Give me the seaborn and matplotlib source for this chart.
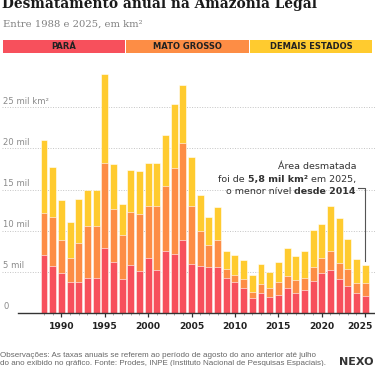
import matplotlib
matplotlib.use("Agg")
import matplotlib.pyplot as plt
from matplotlib.patches import Rectangle
from matplotlib.transforms import ScaledTranslation
import numpy as np
import pandas as pd
import seaborn as sns

# Desmatamento anual (mil km2), PRODES
years = list(range(1988, 2026))
para = [6.99, 5.75, 4.89, 3.78, 3.79, 4.28, 4.28, 7.85, 6.14, 4.14, 5.83, 5.11, 6.67, 5.24, 7.51, 7.15, 8.87, 5.90, 5.66,
        5.53, 5.61, 4.28, 3.77, 3.01, 1.74, 2.35, 1.89, 2.15, 2.99, 2.43, 2.74, 3.86, 4.90, 5.24, 4.14, 3.27, 2.36, 2.09]
mato_grosso = [5.14, 5.96, 4.02, 2.84, 4.67, 6.22, 6.22, 10.39, 6.54, 5.27, 6.47, 6.96, 6.37, 7.70, 7.89, 10.41, 11.81,
               7.15, 4.33, 2.68, 3.26, 1.05, 0.87, 1.12, 0.76, 1.14, 1.08, 1.60, 1.49, 1.56, 1.49, 1.70, 1.78, 2.26,
               1.93, 2.09, 1.30, 1.58]
demais = [8.92, 6.06, 4.82, 4.41, 5.33, 4.40, 4.40, 10.82, 5.48, 3.82, 5.08, 5.19, 5.19, 5.23, 6.25, 7.84, 7.09, 5.96,
          4.30, 3.44, 4.04, 2.13, 2.36, 2.29, 2.07, 2.40, 2.04, 2.46, 3.41, 2.96, 3.31, 4.57, 4.17, 5.54, 5.52, 3.64,
          2.86, 2.13]

series_names = ["PARÁ", "MATO GROSSO", "DEMAIS ESTADOS"]
colors = ["#F7505C", "#FD8D45", "#FFCB2F"]
y_ticks = [0, 5, 10, 15, 20, 25]
y_labels = ["0", "5 mil", "10 mil", "15 mil", "20 mil", "25 mil km²"]
x_ticks = [1990, 1995, 2000, 2005, 2010, 2015, 2020, 2025]

df = pd.DataFrame({"ano": years, "para": para, "mt": mato_grosso, "demais": demais})
df["c1"] = df["para"]
df["c2"] = df["para"] + df["mt"]
df["c3"] = df["c2"] + df["demais"]

W, H = 375, 366
fig = plt.figure(figsize=(W / 100, H / 100), dpi=100)
ax = fig.add_axes([0, 1 - 312.8 / H, 1, (312.8 - 60) / H])

# stacked bars drawn as overlapping cumulative totals
for col, c in zip(["c3", "c2", "c1"], colors[::-1]):
    sns.barplot(data=df, x="ano", y=col, native_scale=True, color=c, saturation=1,
                width=0.8, edgecolor="white", linewidth=0.4, ax=ax, zorder=2)

ax.set_xlim(1988 - 44 / 8.68, 1988 + (W - 44) / 8.68)
ax.set_ylim(0, (312.8 - 60) / 8.22)
for s in ax.spines.values():
    s.set_visible(False)
ax.set_xlabel("")
ax.set_ylabel("")
ax.set_yticks([])

# grid + y labels
ytr = ax.get_yaxis_transform()
for v, lab in zip(y_ticks, y_labels):
    if v > 0:
        ax.axhline(v, xmin=2 / W, color="#c4c4c4", lw=0.7, ls=(0, (1, 1.6)), zorder=0)
    ax.text(3 / W, v + 0.45, lab, transform=ytr, ha="left", va="baseline",
            fontsize=6.1, color="#8a8a8a")
ax.axhline(0, xmin=18 / W, color="#333333", lw=1.0, zorder=3, clip_on=False)

ax.set_xticks(x_ticks)
ax.set_xticklabels([str(x) for x in x_ticks], fontweight="bold", fontsize=6.6, color="#222222")
ax.set_xticks(years, minor=True)
ax.tick_params(axis="x", which="major", length=3, width=0.9, color="#333333", pad=3.5)
ax.tick_params(axis="x", which="minor", length=1.5, width=0.6, color="#999999")
last_lab = ax.get_xticklabels()[-1]
last_lab.set_transform(last_lab.get_transform() + ScaledTranslation(-0.055, 0, fig.dpi_scale_trans))

# title / subtitle
fig.text(2 / W, 1 - 8.3 / H, "Desmatamento anual na Amazônia Legal", family="DejaVu Serif",
         fontweight="bold", fontsize=9.9, color="#1a1a1a", va="baseline")
fig.text(3 / W, 1 - 26.7 / H, "Entre 1988 e 2025, em km²", family="DejaVu Serif",
         fontsize=7.2, color="#808080", va="baseline")

# legend bar
edges = [3, 126, 250, 373]
for i, (name, c) in enumerate(zip(series_names, colors)):
    x0, x1 = edges[i], edges[i + 1] - 1
    fig.patches.append(Rectangle((x0 / W, 1 - 53.3 / H), (x1 - x0) / W, 13.3 / H,
                                 transform=fig.transFigure, facecolor=c, edgecolor="none"))
    fig.text((x0 + x1) / 2 / W, 1 - 46.7 / H, name, ha="center", va="center",
             fontsize=6, fontweight="bold", color="#222222")

# annotation
renderer = fig.canvas.get_renderer()


def rich_line(parts, x_right_px, y_px):
    x = x_right_px
    for txt, w in reversed(parts):
        t = fig.text(x / W, 1 - y_px / H, txt, ha="right", va="baseline", fontsize=6.8,
                     fontweight=w, color="#333333")
        x -= t.get_window_extent(renderer).width
    return x


rich_line([("Área desmatada", "normal")], 356, 169.3)
rich_line([("foi de ", "normal"), ("5,8 mil km²", "bold"), (" em 2025,", "normal")], 356, 181.7)
rich_line([("o menor nível ", "normal"), ("desde 2014", "bold")], 356, 194)

x_px_to_year = lambda px: 1988 + (px - 44) / 8.68
y_line = (312.8 - 188.3) / 8.22
last_top = df["c3"].iloc[-1]
ax.plot([x_px_to_year(358), years[-1], years[-1]], [y_line, y_line, last_top + 0.45],
        color="#555555", lw=0.8, zorder=4, solid_joinstyle="round")

# footer
fig.text(0, 1 - 357 / H, "Observações: As taxas anuais se referem ao período de agosto do ano anterior até julho",
         fontsize=5.75, color="#666666", va="baseline", family="Liberation Sans")
fig.text(0, 1 - 365.3 / H, "do ano exibido no gráfico. Fonte: Prodes, INPE (Instituto Nacional de Pesquisas Espaciais).",
         fontsize=5.75, color="#666666", va="baseline", family="Liberation Sans")
fig.text(373 / W, 1 - 365 / H, "NEXO", ha="right", va="baseline", fontsize=8, fontweight="bold",
         color="#333333")

fig.savefig("out.png", dpi=100)
